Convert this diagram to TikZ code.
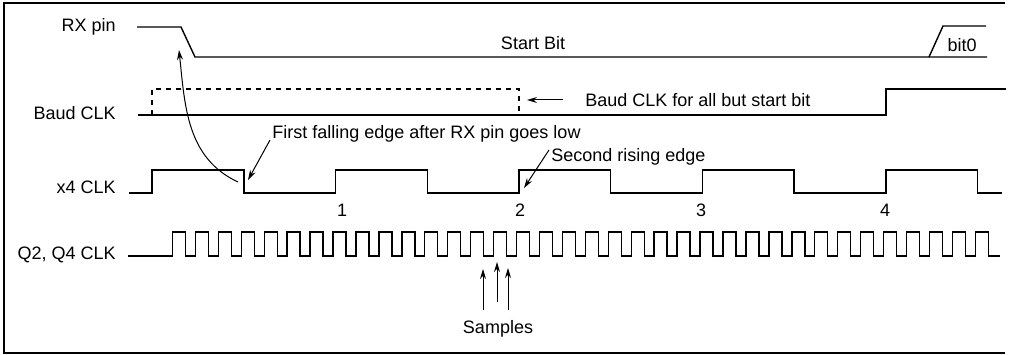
\documentclass[tikz,border=0pt]{standalone}
\usepackage{fontspec}
\setmainfont{Liberation Sans}
\usetikzlibrary{arrows.meta,calc}

\tikzset{
  sig/.style={line width=0.7pt},
  lbl/.style={font=\fontsize{9}{10.5}\selectfont, inner sep=1pt},
  note/.style={-{Stealth[length=5pt,width=3pt]}, line width=0.5pt},
}

\begin{document}
\begin{tikzpicture}[x=0.5pt,y=0.5pt]
\useasboundingbox (0,0) rectangle (1010,354);
% frame
\draw[line width=0.6pt] (1005,351) -- (4,351) -- (4,1) -- (1005,1);

% signal names
\node[lbl,anchor=east] (rxname) at (118,327) {RX pin};
\node[lbl,anchor=east] (baudname) at (118,241) {Baud CLK};
\node[lbl,anchor=east] (xfourname) at (118,167) {x4 CLK};
\node[lbl,anchor=east] (qname) at (118,99) {Q2, Q4 CLK};

% RX pin
\draw[sig] (137,327) -- (181,327) -- (195,297) -- (987,297);
\draw[sig] (929,297) -- (943,328) -- (986,328);
\node[lbl] (startbit) at (533,311) {Start Bit};
\node[lbl] (bitzero) at (962,309) {bit0};

% Baud CLK
\draw[sig] (138,239) -- (886,239) -- (886,265) -- (1006,265);
\draw[sig,dash pattern=on 2.5pt off 2.5pt] (152,239) -- (152,265) -- (519,265) -- (519,239);
\node[lbl,anchor=west] (baudnote) at (583,254) {Baud CLK for all but start bit};
\coordinate (dashend) at (527,254);
\draw[note] ([xshift=-10pt]baudnote.west) -- (dashend);

% x4 CLK
\draw[sig] (129,161) \foreach \i in {0,...,4}{
  -- ({152+183.5*\i},161) -- ++(0,23) -- ({244+183.3*\i},184) -- ++(0,-23)} -- (1002,161);
\node[lbl] (one) at (342,144) {1};
\node[lbl] (two) at (520,144) {2};
\node[lbl] (three) at (701,144) {3};
\node[lbl] (four) at (885,144) {4};

% Q2, Q4 CLK
\draw[sig] (128,98) \foreach \k in {1,...,36}{
  -- ({149.5+22.94*\k},98) -- ++(0,24) -- ++(13,0) -- ++(0,-24)} -- (1000,98);

% notes
\node[lbl,anchor=west] (falltxt) at (270,220) {First falling edge after RX pin goes low};
\coordinate (x4edge) at (248,174);
\draw[note] ([yshift=-3pt]falltxt.west) -- (x4edge);
\node[lbl,anchor=west] (risetxt) at (549,197) {Second rising edge};
\coordinate (x4rise) at (524,166);
\draw[note] ([yshift=3.5pt]risetxt.west) -- (x4rise);
\coordinate (x4low) at (238,172);
\coordinate (rxfall) at (179,304);
\draw[note] (x4low) to[out=155,in=-84] (rxfall);

% samples
\node[lbl] (samp) at (498,25) {Samples};
\coordinate (sa) at (483,85);
\coordinate (sb) at (497,92);
\coordinate (sc) at (508,86);
\draw[note] ([yshift=4pt]samp.north -| sa) -- (sa);
\draw[note] ([yshift=8pt]samp.north -| sb) -- (sb);
\draw[note] ([yshift=4pt]samp.north -| sc) -- (sc);
\end{tikzpicture}
\end{document}
